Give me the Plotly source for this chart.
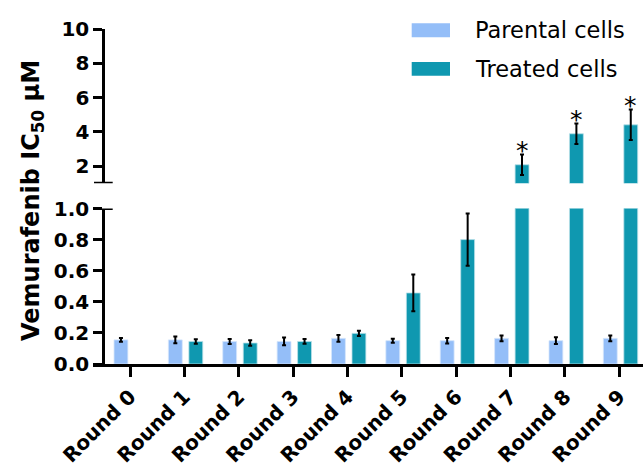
import plotly.graph_objects as go

rounds = ["Round 0", "Round 1", "Round 2", "Round 3", "Round 4",
          "Round 5", "Round 6", "Round 7", "Round 8", "Round 9"]
parental = [0.155, 0.155, 0.145, 0.145, 0.165, 0.150, 0.150, 0.165, 0.150, 0.165]
parental_err = [0.012, 0.022, 0.016, 0.025, 0.022, 0.013, 0.018, 0.018, 0.022, 0.018]
treated = [None, 0.145, 0.135, 0.145, 0.197, 0.457, 0.800, 2.08, 3.89, 4.41]
treated_err = [None, 0.014, 0.018, 0.015, 0.017, 0.118, 0.168, 0.60, 0.60, 0.89]
significant = [False, False, False, False, False, False, False, True, True, True]
lower_ticks = [0.0, 0.2, 0.4, 0.6, 0.8, 1.0]
upper_ticks = [2, 4, 6, 8, 10]

BLUE = "#94BEF8"
TEAL = "#0F98B0"
FONT = "DejaVu Sans, Arial, sans-serif"

W, H = 643, 466
ML, MR, MT, MB = 93, 0, 29, 102
PW, PH = W - ML - MR, H - MT - MB

def px_x(p):
    return (p - ML) / PW

def px_y(p):
    return (H - MB - p) / PH

x = list(range(len(rounds)))
BW = 0.255
OFF_P = -0.294
OFF_T = 0.083

upper_mask = [v if (v is not None and v > 1) else None for v in treated]
upper_err = [e if (v is not None and v > 1) else None for v, e in zip(treated, treated_err)]

err_style = dict(type="data", color="black", thickness=2, width=2)

fig = go.Figure()
fig.add_trace(go.Bar(x=x, y=parental, width=BW, offset=OFF_P, name="Parental cells",
                     marker=dict(color=BLUE, line=dict(color="#d6e6fb", width=0.8)),
                     error_y=dict(array=parental_err, **err_style),
                     xaxis="x", yaxis="y", showlegend=False))
fig.add_trace(go.Bar(x=x, y=treated, width=BW, offset=OFF_T, name="Treated cells",
                     marker=dict(color=TEAL, line=dict(color="#b8e0e8", width=0.8)),
                     error_y=dict(array=treated_err, **err_style),
                     xaxis="x", yaxis="y", showlegend=False))
fig.add_trace(go.Bar(x=x, y=upper_mask, width=BW, offset=OFF_T, name="Treated cells",
                     marker=dict(color=TEAL, line=dict(color="#b8e0e8", width=0.8)),
                     error_y=dict(array=upper_err, **err_style),
                     xaxis="x", yaxis="y2", showlegend=False))

annotations = []
for i, (v, e, s) in enumerate(zip(treated, treated_err, significant)):
    if s:
        annotations.append(dict(x=i + OFF_T + BW / 2, y=v + e, xref="x", yref="y2",
                                text="*", showarrow=False, yanchor="middle",
                                yshift=4, font=dict(family=FONT, size=25, color="black")))

annotations.append(dict(x=px_x(32), y=px_y(201), xref="paper", yref="paper",
                        text="Vemurafenib IC<sub>50</sub> μM", textangle=-90,
                        showarrow=False, xanchor="center", yanchor="middle",
                        font=dict(family=FONT, size=24, color="black", weight="bold")))

legend_items = [("Parental cells", BLUE, 23.3, 37.3), ("Treated cells", TEAL, 62.0, 75.7)]
shapes = []
for label, col, y0, y1 in legend_items:
    shapes.append(dict(type="rect", xref="paper", yref="paper",
                       x0=px_x(411.7), x1=px_x(450), y0=px_y(y1), y1=px_y(y0),
                       fillcolor=col, line=dict(width=0)))
    annotations.append(dict(x=px_x(473), y=px_y((y0 + y1) / 2), xref="paper", yref="paper",
                            text=label, showarrow=False, xanchor="left", yanchor="middle",
                            font=dict(family=FONT, size=22.5, color="black")))

yaxis_pos = px_x(103.3)
# break caps
for yref in ("y", "y2"):
    shapes.append(dict(type="line", xref="paper", yref=yref,
                       x0=px_x(94), x1=px_x(112.7), y0=1, y1=1,
                       line=dict(color="black", width=3)))

tickfont = dict(family=FONT, size=20, color="black", weight="bold")
low_top = px_y(208.5)
up_bot = px_y(183.3)

fig.update_layout(
    width=W, height=H,
    margin=dict(l=ML, r=MR, t=MT, b=MB, autoexpand=False),
    paper_bgcolor="white", plot_bgcolor="white",
    barmode="overlay",
    xaxis=dict(range=[(ML - 130) / 54.37, (W - 130) / 54.37], tickvals=x, ticktext=rounds,
               tickangle=-45, tickfont=tickfont, showline=True, linecolor="black",
               linewidth=3, ticks="outside", ticklen=10, tickwidth=3, tickcolor="black",
               showgrid=False, zeroline=False, anchor="y", automargin=False),
    yaxis=dict(domain=[0, low_top], range=[0, 1.0], tickvals=lower_ticks, tickformat=".1f",
               tickfont=tickfont, showline=True, linecolor="black", linewidth=3,
               ticks="outside", ticklen=9, tickwidth=3, tickcolor="black",
               showgrid=False, zeroline=False, anchor="free", position=yaxis_pos,
               automargin=False),
    yaxis2=dict(domain=[up_bot, 1], range=[1, 10], tickvals=upper_ticks,
                tickfont=tickfont, showline=True, linecolor="black", linewidth=3,
                ticks="outside", ticklen=9, tickwidth=3, tickcolor="black",
                showgrid=False, zeroline=False, anchor="free", position=yaxis_pos,
                automargin=False),
    shapes=shapes,
    annotations=annotations,
)

fig.write_html("out.html", config={"displayModeBar": False},
               post_script="document.body.style.margin='0';document.body.style.overflow='hidden';")
